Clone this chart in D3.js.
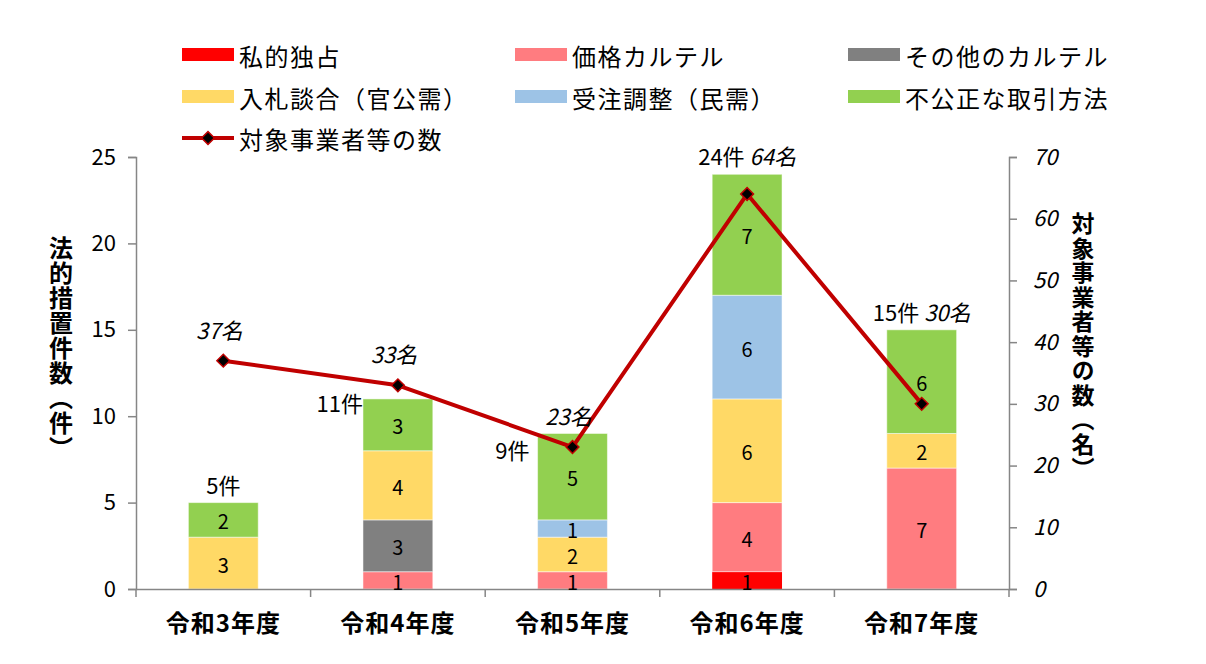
<!DOCTYPE html>
<html>
<head>
<meta charset="utf-8">
<script src="https://cdn.jsdelivr.net/npm/d3@7.9.0/dist/d3.min.js"></script>
<style>
  body { margin: 0; background: #fff; }
  svg { display: block; font-family: "Noto Sans CJK JP", "Noto Sans", sans-serif; }
</style>
</head>
<body>
<svg id="chart" width="1206" height="664"></svg>
<script>
// data
const categories = ['令和3年度', '令和4年度', '令和5年度', '令和6年度', '令和7年度'];
const seriesNames = ['私的独占', '価格カルテル', 'その他のカルテル', '入札談合(官公需)', '受注調整(民需)', '不公正な取引方法'];
const seriesColors = ['#ff0000', '#ff7c80', '#808080', '#ffd966', '#9dc3e6', '#92d050'];
const shitekiDokusen = [0, 0, 0, 1, 0];
const kakakuCartel = [0, 1, 1, 4, 7];
const sonotaCartel = [0, 3, 0, 0, 0];
const nyusatsuDango = [3, 4, 2, 6, 2];
const juchuChosei = [0, 0, 1, 6, 0];
const fukoseiTorihiki = [2, 3, 5, 7, 6];
const companies = [37, 33, 23, 64, 30];
const lineName = '対象事業者等の数';
const leftTicks = [0, 5, 10, 15, 20, 25];
const rightTicks = [0, 10, 20, 30, 40, 50, 60, 70];

// where the total label sits for each year (the line gets in the way of some)
const totalPlacement = ['above', 'left', 'left', 'above', 'above'];
const mergedNameLabel = [false, false, false, true, true];

const seriesValues = [shitekiDokusen, kakakuCartel, sonotaCartel, nyusatsuDango, juchuChosei, fukoseiTorihiki];
const rows = categories.map((c, i) => {
  const r = { cat: c };
  seriesNames.forEach((s, j) => { r[s] = seriesValues[j][i]; });
  return r;
});
const totals = rows.map(r => d3.sum(seriesNames, s => r[s]));

const svg = d3.select('#chart');
const plotL = 136, plotR = 1009, plotT = 157, plotB = 589;

const x = d3.scaleBand().domain(categories).range([plotL, plotR]).padding(0);
const barW = x.bandwidth() * 0.4;
const y = d3.scaleLinear().domain([0, 25]).range([plotB, plotT]);
const y2 = d3.scaleLinear().domain([0, 70]).range([plotB, plotT]);
const cx = c => x(c) + x.bandwidth() / 2;

const stack = d3.stack().keys(seriesNames);
const layers = stack(rows);

// bars
const g = svg.append('g');
layers.forEach((layer, li) => {
  g.selectAll(null)
    .data(layer.filter(d => d[1] - d[0] > 0))
    .join('rect')
    .attr('x', d => cx(d.data.cat) - barW / 2)
    .attr('y', d => y(d[1]))
    .attr('width', barW)
    .attr('height', d => y(d[0]) - y(d[1]))
    .attr('fill', seriesColors[li])
    .attr('stroke', li === 0 ? 'none' : '#fff')
    .attr('stroke-opacity', 0.5)
    .attr('stroke-width', 1);
});

// axes
const axisColor = '#868686';
const yAxis = svg.append('g')
  .attr('transform', `translate(${plotL},0)`)
  .call(d3.axisLeft(y).tickValues(leftTicks).tickSize(8).tickPadding(12));
const y2Axis = svg.append('g')
  .attr('transform', `translate(${plotR},0)`)
  .call(d3.axisRight(y2).tickValues(rightTicks).tickSize(8).tickPadding(16));
const xAxis = svg.append('g')
  .attr('transform', `translate(0,${plotB})`)
  .call(d3.axisBottom(x).tickSize(0).tickPadding(21));

[yAxis, y2Axis, xAxis].forEach(a => {
  a.select('.domain').attr('stroke', axisColor).attr('stroke-width', 1.5);
  a.selectAll('.tick line').attr('stroke', axisColor).attr('stroke-width', 1.5);
  a.selectAll('text').attr('fill', '#000').style('font-family', '"Noto Sans CJK JP", sans-serif');
});
yAxis.selectAll('text').attr('font-size', 22);
y2Axis.selectAll('text').attr('font-size', 22).attr('font-style', 'italic');
xAxis.selectAll('text').attr('font-size', 24).attr('font-weight', 'bold')
  .attr('letter-spacing', 1).attr('dy', '0.9em');

// category boundary ticks on the x axis
const bounds = categories.map(c => x(c)).concat([plotR]);
svg.append('g').selectAll('line').data(bounds).join('line')
  .attr('x1', d => d).attr('x2', d => d)
  .attr('y1', plotB).attr('y2', plotB + 8)
  .attr('stroke', axisColor).attr('stroke-width', 1.5);

// segment values
layers.forEach(layer => {
  svg.append('g').selectAll('text')
    .data(layer.filter(d => d[1] - d[0] > 0))
    .join('text')
    .attr('x', d => cx(d.data.cat))
    .attr('y', d => (y(d[0]) + y(d[1])) / 2 + 1)
    .attr('text-anchor', 'middle')
    .attr('dominant-baseline', 'central')
    .attr('font-size', 20)
    .text(d => d[1] - d[0]);
});

// line series
const line = d3.line().x((d, i) => cx(categories[i])).y(d => y2(d));
svg.append('path')
  .datum(companies)
  .attr('d', line)
  .attr('fill', 'none')
  .attr('stroke', '#c00000')
  .attr('stroke-width', 4)
  .attr('stroke-linejoin', 'round');

const diamond = d3.symbol().type(d3.symbolSquare).size(82);
svg.append('g').selectAll('path').data(companies).join('path')
  .attr('d', diamond)
  .attr('transform', (d, i) => `translate(${cx(categories[i])},${y2(d)}) rotate(45)`)
  .attr('fill', '#000')
  .attr('stroke', '#c00000')
  .attr('stroke-width', 1.5);

// totals and company counts
categories.forEach((c, i) => {
  const topY = y(totals[i]);
  if (mergedNameLabel[i]) {
    const t = svg.append('text')
      .attr('x', cx(c))
      .attr('y', topY - 9)
      .attr('text-anchor', 'middle')
      .attr('font-size', 22);
    t.append('tspan').text(totals[i] + '件 ');
    t.append('tspan').attr('font-style', 'italic').text(companies[i] + '名');
  } else {
    if (totalPlacement[i] === 'above') {
      svg.append('text')
        .attr('x', cx(c)).attr('y', topY - 9)
        .attr('text-anchor', 'middle').attr('font-size', 22)
        .text(totals[i] + '件');
    } else {
      svg.append('text')
        .attr('x', cx(c) - barW / 2 - (i === 2 ? 8 : 0))
        .attr('y', topY + (i === 2 ? 26 : 13))
        .attr('text-anchor', 'end').attr('font-size', 22)
        .text(totals[i] + '件');
    }
    svg.append('text')
      .attr('x', cx(c) - 4)
      .attr('y', y2(companies[i]) - 22)
      .attr('text-anchor', 'middle')
      .attr('font-size', 22)
      .attr('font-style', 'italic')
      .text(companies[i] + '名');
  }
});

// axis titles, written vertically
svg.append('text')
  .attr('x', 61).attr('y', 236)
  .attr('writing-mode', 'vertical-rl')
  .attr('font-size', 24).attr('font-weight', 'bold')
  .attr('letter-spacing', 1)
  .text('法的措置件数（件）');
svg.append('text')
  .attr('x', 1083).attr('y', 212)
  .attr('writing-mode', 'vertical-rl')
  .attr('font-size', 23).attr('font-weight', 'bold')
  .attr('letter-spacing', 1.5)
  .text('対象事業者等の数（名）');

// legend
const legendCols = [182, 515, 848];
const legendRows = [55, 97, 138];
const legendItems = seriesNames.map((s, i) => ({ name: s, color: seriesColors[i], type: 'bar' }))
  .concat([{ name: lineName, color: '#c00000', type: 'line' }]);
const lg = svg.append('g');
legendItems.forEach((d, i) => {
  const lx = legendCols[i % 3], ly = legendRows[Math.floor(i / 3)];
  if (d.type === 'bar') {
    lg.append('rect').attr('x', lx).attr('y', ly - 7).attr('width', 52).attr('height', 13).attr('fill', d.color);
  } else {
    lg.append('line').attr('x1', lx).attr('x2', lx + 52).attr('y1', ly).attr('y2', ly)
      .attr('stroke', d.color).attr('stroke-width', 4);
    lg.append('path').attr('d', diamond)
      .attr('transform', `translate(${lx + 26},${ly}) rotate(45)`)
      .attr('fill', '#000').attr('stroke', '#c00000').attr('stroke-width', 1.5);
  }
  lg.append('text')
    .attr('x', lx + 57).attr('y', ly)
    .attr('dominant-baseline', 'central')
    .attr('font-size', 24)
    .attr('letter-spacing', 1.5)
    .text(d.name.replace('(', '（').replace(')', '）'));
});
</script>
</body>
</html>
